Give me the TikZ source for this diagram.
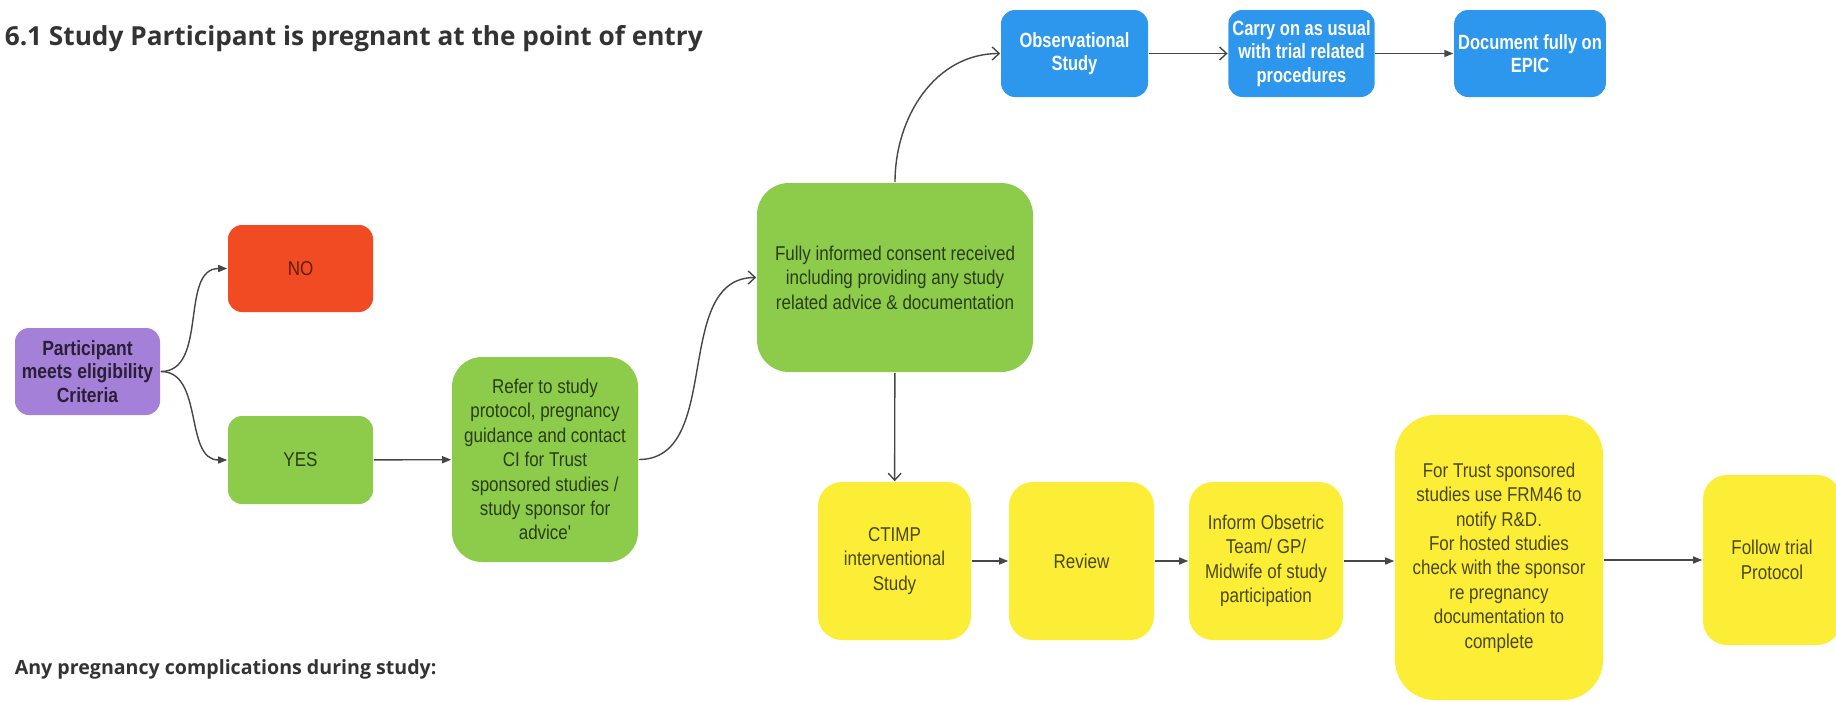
\documentclass[tikz,border=0pt]{standalone}
\usepackage{fontspec}
\setmainfont{Liberation Sans}
\newfontfamily\boxfont[FakeStretch=0.85]{Liberation Sans}
\newfontfamily\bluefont[FakeStretch=0.8]{Liberation Sans}
\newfontfamily\headfont{Open Sans}
\usetikzlibrary{arrows.meta}
\definecolor{partpurple}{RGB}{164,128,216}
\definecolor{nored}{RGB}{241,75,36}
\definecolor{leafgreen}{RGB}{141,203,75}
\definecolor{skyblue}{RGB}{45,151,238}
\definecolor{signyellow}{RGB}{252,238,55}
\definecolor{arrowgrey}{RGB}{70,70,70}

\begin{document}
\begin{tikzpicture}[x=0.5pt,y=-0.5pt,thick]
        %
        % `box' is the common look of every step.
        % `solidarr' ends in a filled head, `openarr' in an open one.
        \tikzstyle{box} = [rounded corners=7pt,inner sep=2pt,align=center,
                font={\boxfont\fontsize{10pt}{12.2pt}\selectfont}]
        \tikzstyle{purplebox} = [box,fill=partpurple,text=black!75!partpurple,
                font={\boxfont\bfseries\fontsize{10.3pt}{11.6pt}\selectfont}]
        \tikzstyle{redbox} = [box,fill=nored,text=black!60!nored]
        \tikzstyle{greenbox} = [box,fill=leafgreen,text=black!70!leafgreen]
        \tikzstyle{bluebox} = [box,fill=skyblue,text=white,
                font={\bluefont\bfseries\fontsize{10.3pt}{11.8pt}\selectfont}]
        \tikzstyle{yellowbox} = [box,fill=signyellow,text=black!70!signyellow]
        \tikzstyle{solidarr} = [draw=arrowgrey,line width=0.7pt,
                -{Triangle[length=4.5pt,width=3.5pt]}]
        \tikzstyle{openarr} = [draw=arrowgrey,line width=0.7pt,
                -{Straight Barb[length=3.5pt,width=6.5pt]}]
        %
        % Page
        \fill[white] (0,0) rectangle (1836,702);
        \useasboundingbox (0,0) rectangle (1836,702);
        %
        % Headings
        \node[anchor=base west,inner sep=0pt,text=black!80,
              font={\headfont\bfseries\fontsize{13.1pt}{16pt}\selectfont}]
              (title) at (4,45) {6.1 Study Participant is pregnant at the point of entry};
        \node[anchor=base west,inner sep=0pt,text=black!80,
              font={\headfont\bfseries\fontsize{9.8pt}{11pt}\selectfont}]
              (complications) at (14,674) {Any pregnancy complications during study:};
        %
        % Column 1
        \node[purplebox,minimum width=72.5pt,minimum height=43.5pt] (part) at (87.5,371.5)
              {Participant\\meets eligibility\\Criteria};
        %
        % Column 2
        \node[redbox,minimum width=72.5pt,minimum height=43.5pt] (no) at (300.5,268.5) {NO};
        \node[greenbox,minimum width=72.5pt,minimum height=44pt] (yes) at (300.5,460) {YES};
        %
        % Column 3
        \node[greenbox,rounded corners=15pt,minimum width=93pt,minimum height=102.5pt]
              (refer) at (545,459.5)
              {Refer to study\\protocol, pregnancy\\guidance and contact\\CI for Trust\\sponsored studies /\\study sponsor for\\advice'};
        %
        % Column 4
        \node[greenbox,rounded corners=16pt,minimum width=138pt,minimum height=94.5pt]
              (consent) at (895,277.5)
              {Fully informed consent received\\including providing any study\\related advice \& documentation};
        \node[yellowbox,rounded corners=12pt,minimum width=76.5pt,minimum height=79pt]
              (ctimp) at (894.5,561) {CTIMP\\interventional\\Study};
        %
        % Top row
        \node[bluebox,minimum width=73.5pt,minimum height=43.5pt] (obs) at (1074.5,53.5)
              {Observational\\Study};
        \node[bluebox,minimum width=71.5pt,minimum height=43.5pt] (carry) at (1301.5,53.5)
              {Carry on as usual\\with trial related\\procedures};
        \node[bluebox,minimum width=73pt,minimum height=43.5pt] (epic) at (1530,53.5)
              {Document fully on\\EPIC};
        %
        % Bottom row
        \node[yellowbox,rounded corners=12pt,minimum width=72.5pt,minimum height=79pt]
              (review) at (1081.5,561) {Review};
        \node[yellowbox,rounded corners=12pt,minimum width=77pt,minimum height=79pt]
              (inform) at (1266,561)
              {Inform Obsetric\\Team/ GP/\\Midwife of study\\participation};
        \node[yellowbox,rounded corners=20pt,minimum width=104pt,minimum height=142.5pt]
              (trust) at (1499,557.5)
              {For Trust sponsored\\studies use FRM46 to\\notify R\&D.\\For hosted studies\\check with the sponsor\\re pregnancy\\documentation to\\complete};
        \node[yellowbox,rounded corners=12pt,minimum width=69pt,minimum height=85pt]
              (follow) at (1772,560) {Follow trial\\Protocol};
        %
        % Connectors
        \draw[solidarr] (part.east) to[out=0,in=180] (no.west);
        \draw[solidarr] (part.east) to[out=0,in=180] (yes.west);
        \draw[solidarr] (yes) -- (refer);
        \draw[openarr] (refer.east) to[out=0,in=180] (consent.west);
        \draw[openarr] (consent.north) to[out=90,in=180] (obs.west);
        \draw[openarr] (obs) -- (carry);
        \draw[solidarr] (carry) -- (epic);
        \draw[openarr] (consent) -- (ctimp);
        \draw[solidarr] (ctimp) -- (review);
        \draw[solidarr] (review) -- (inform);
        \draw[solidarr] (inform.east) -- (inform.east -| trust.west);
        \draw[solidarr] (trust.east |- follow.west) -- (follow.west);
        %
\end{tikzpicture}
\end{document}
